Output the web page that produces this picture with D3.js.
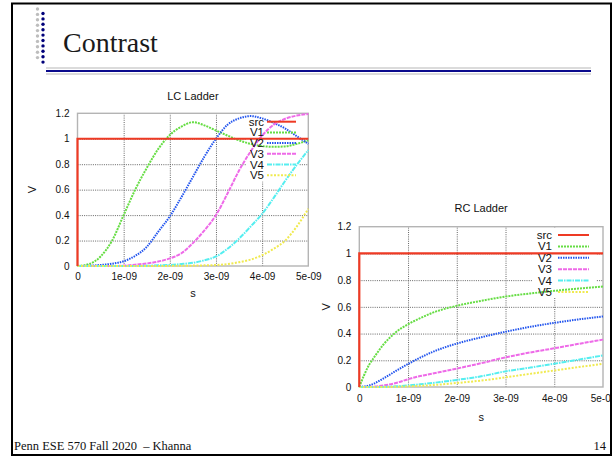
<!DOCTYPE html>
<html>
<head>
<meta charset="utf-8">
<script src="https://cdn.jsdelivr.net/npm/d3@7"></script>
<style>
body { margin: 0; background: #fff; }
svg { display: block; }
</style>
</head>
<body>
<div class="canvas"></div>
<script>
// series names + styles (gnuplot look)
const names  = ["src", "V1", "V2", "V3", "V4", "V5"];
const colors = ["#ee3a24", "#66dd44", "#2456ee", "#ee6ae8", "#55eef0", "#f0ea50"];
const dashes = [null, "2,1", "1.5,1", "4,1", "5,1,1.5,1", "2,1.5"];

const xTickValues = [0, 1, 2, 3, 4, 5];            // ns
const xTickLabels = ["0", "1e-09", "2e-09", "3e-09", "4e-09", "5e-09"];
const yTickValues = [0, 0.2, 0.4, 0.6, 0.8, 1, 1.2];
const yTickLabels = ["0", "0.2", "0.4", "0.6", "0.8", "1", "1.2"];

// source step
const srcT = [0, 0, 5];
const srcV = [0, 1, 1];

// LC ladder (time in ns)
const lcT  = [0, 0.25, 0.5, 0.75, 1, 1.25, 1.5, 1.75, 2, 2.25, 2.5, 2.75, 3, 3.25, 3.5, 3.75, 4, 4.25, 4.5, 4.75, 5];
const lcV1 = [0, 0.015, 0.075, 0.2, 0.4, 0.6, 0.77, 0.92, 1.03, 1.095, 1.13, 1.105, 1.065, 1.025, 0.987, 0.96, 0.942, 0.937, 0.94, 0.96, 0.987];
const lcV2 = [0, 0.002, 0.008, 0.018, 0.037, 0.08, 0.15, 0.27, 0.39, 0.54, 0.70, 0.86, 1.0, 1.11, 1.16, 1.178, 1.16, 1.125, 1.08, 1.02, 0.96];
const lcV3 = [0, 0, 0, 0, 0.003, 0.01, 0.02, 0.035, 0.06, 0.1, 0.18, 0.28, 0.40, 0.57, 0.75, 0.9, 1.025, 1.11, 1.157, 1.182, 1.195];
const lcV4 = [0, 0, 0, 0, 0, 0, 0.002, 0.005, 0.008, 0.015, 0.025, 0.045, 0.075, 0.135, 0.215, 0.31, 0.41, 0.535, 0.67, 0.795, 0.91];
const lcV5 = [0, 0, 0, 0, 0, 0, 0, 0, 0.001, 0.002, 0.003, 0.005, 0.008, 0.015, 0.03, 0.05, 0.085, 0.135, 0.2, 0.31, 0.45];

// RC ladder (time in ns)
const rcT  = [0, 0.1, 0.2, 0.3, 0.5, 0.75, 1, 1.25, 1.5, 2, 2.5, 3, 3.5, 4, 4.5, 5];
const rcV1 = [0, 0.09, 0.165, 0.22, 0.32, 0.41, 0.47, 0.515, 0.555, 0.608, 0.645, 0.677, 0.70, 0.72, 0.737, 0.752];
const rcV2 = [0, 0.004, 0.012, 0.025, 0.065, 0.12, 0.172, 0.22, 0.262, 0.325, 0.372, 0.414, 0.45, 0.48, 0.506, 0.528];
const rcV3 = [0, 0, 0.001, 0.003, 0.012, 0.03, 0.058, 0.082, 0.1, 0.138, 0.178, 0.222, 0.258, 0.29, 0.323, 0.355];
const rcV4 = [0, 0, 0, 0, 0.001, 0.005, 0.012, 0.02, 0.03, 0.053, 0.08, 0.117, 0.145, 0.174, 0.205, 0.236];
const rcV5 = [0, 0, 0, 0, 0, 0.002, 0.005, 0.009, 0.014, 0.03, 0.048, 0.072, 0.098, 0.124, 0.149, 0.174];

const svg = d3.select(".canvas").append("svg").attr("width", 616).attr("height", 459);
svg.append("rect").attr("width", 616).attr("height", 459).attr("fill", "#fff");

svg.append("clipPath").attr("id", "slide")
    .append("rect").attr("x", 12).attr("y", 3).attr("width", 599).attr("height", 452);

const slide = svg.append("g").attr("clip-path", "url(#slide)");

// decorative dots at the top left
slide.selectAll(".gdot").data(d3.range(9, 63, 5.4)).join("circle")
    .attr("cx", 37.5).attr("cy", d => d).attr("r", 1.7).attr("fill", "#bdbdbd");
slide.selectAll(".bdot").data(d3.range(13.5, 67, 5.4)).join("circle")
    .attr("cx", 43).attr("cy", d => d).attr("r", 1.7).attr("fill", "#00007a");

slide.append("text")
    .attr("x", 63).attr("y", 52)
    .attr("font-family", "Liberation Serif, Times New Roman, serif")
    .attr("font-size", "28px").attr("fill", "#1a1a1a")
    .text("Contrast");

// double rule under the title
[[68, "#cfcfcf", 1.6], [71, "#0a0a8c", 2], [74, "#cfcfcf", 1.6]].forEach(r => {
    slide.append("line").attr("x1", 46).attr("x2", 591).attr("y1", r[0]).attr("y2", r[0])
        .attr("stroke", r[1]).attr("stroke-width", r[2]);
});

function drawChart(cfg) {
    const g = slide.append("g");
    const x = d3.scaleLinear().domain([0, 5]).range(cfg.xr);
    const y = d3.scaleLinear().domain([0, 1.2]).range(cfg.yr);
    const w = cfg.xr[1] - cfg.xr[0], h = cfg.yr[0] - cfg.yr[1];

    // grid
    const gx = g.append("g").attr("transform", `translate(0,${cfg.yr[0]})`)
        .call(d3.axisBottom(x).tickValues(xTickValues.slice(1, -1)).tickSize(-h).tickFormat(""));
    const gy = g.append("g").attr("transform", `translate(${cfg.xr[0]},0)`)
        .call(d3.axisLeft(y).tickValues(yTickValues.slice(1, -1)).tickSize(-w).tickFormat(""));
    [gx, gy].forEach(a => {
        a.select(".domain").remove();
        a.selectAll("line").attr("stroke", "#555").attr("stroke-dasharray", "1,1.2").attr("stroke-width", 0.9);
    });

    // legend background hides the grid
    g.append("rect").attr("x", cfg.key.box[0]).attr("y", cfg.key.box[1])
        .attr("width", cfg.key.box[2]).attr("height", cfg.key.box[3]).attr("fill", "#fff");

    // border
    g.append("rect").attr("x", cfg.xr[0]).attr("y", cfg.yr[1]).attr("width", w).attr("height", h)
        .attr("fill", "none").attr("stroke", "#b4b4b4").attr("stroke-width", 1.4);

    // tick labels
    const ax = g.append("g").attr("transform", `translate(0,${cfg.yr[0]})`)
        .call(d3.axisBottom(x).tickValues(xTickValues).tickSize(0).tickPadding(cfg.xpad)
            .tickFormat((d, i) => xTickLabels[i]));
    const ay = g.append("g").attr("transform", `translate(${cfg.xr[0]},0)`)
        .call(d3.axisLeft(y).tickValues(yTickValues).tickSize(0).tickPadding(cfg.ypad)
            .tickFormat((d, i) => yTickLabels[i]));
    [ax, ay].forEach(a => {
        a.select(".domain").remove();
        a.selectAll("text").attr("font-family", "Liberation Sans, Arial, sans-serif")
            .attr("font-size", "10px").attr("fill", "#111");
    });

    // curves
    const line = d3.line().x(d => x(d[0])).y(d => y(d[1])).curve(d3.curveMonotoneX);
    const srcLine = d3.line().x(d => x(d[0])).y(d => y(d[1]));
    cfg.series.forEach((s, i) => {
        if (i === 0) return;
        const pts = s.t.map((t, k) => [t, s.v[k]]);
        g.append("path").datum(pts)
            .attr("d", line)
            .attr("fill", "none").attr("stroke", colors[i])
            .attr("stroke-width", 2)
            .attr("stroke-dasharray", dashes[i]);
    });
    // source step drawn on top
    const s0 = cfg.series[0];
    g.append("path").datum(s0.t.map((t, k) => [t, s0.v[k]])).attr("d", srcLine)
        .attr("fill", "none").attr("stroke", colors[0]).attr("stroke-width", 2.2);

    // legend
    names.forEach((n, i) => {
        const ly = cfg.key.y0 + i * cfg.key.dy;
        g.append("text").attr("x", cfg.key.tx).attr("y", ly).attr("dy", "0.35em")
            .attr("text-anchor", "end")
            .attr("font-family", "Liberation Sans, Arial, sans-serif")
            .attr("font-size", "11.5px").attr("fill", "#111").text(n);
        g.append("line").attr("x1", cfg.key.l1).attr("x2", cfg.key.l2).attr("y1", ly).attr("y2", ly)
            .attr("stroke", colors[i]).attr("stroke-width", 2).attr("stroke-dasharray", dashes[i]);
    });

    // titles
    const font = "Liberation Sans, Arial, sans-serif";
    g.append("text").attr("x", (cfg.xr[0] + cfg.xr[1]) / 2).attr("y", cfg.titleY)
        .attr("text-anchor", "middle").attr("font-family", font).attr("font-size", "11px")
        .attr("fill", "#111").text(cfg.title);
    g.append("text").attr("x", (cfg.xr[0] + cfg.xr[1]) / 2).attr("y", cfg.sY)
        .attr("text-anchor", "middle").attr("font-family", font).attr("font-size", "11px")
        .attr("fill", "#111").text("s");
    g.append("text").attr("transform", `translate(${cfg.vX},${(cfg.yr[0] + cfg.yr[1]) / 2}) rotate(-90)`)
        .attr("text-anchor", "middle").attr("dy", "0.35em").attr("font-family", font).attr("font-size", "11px")
        .attr("fill", "#111").text("V");
}

drawChart({
    xr: [77.5, 308.3], yr: [266, 113.3],
    xpad: 7, ypad: 8,
    title: "LC Ladder", titleY: 100, sY: 297, vX: 32,
    key: { tx: 264, l1: 267, l2: 296, y0: 121.7, dy: 10.7, box: [246, 114.5, 53, 67] },
    series: [
        { t: srcT, v: srcV }, { t: lcT, v: lcV1 }, { t: lcT, v: lcV2 },
        { t: lcT, v: lcV3 }, { t: lcT, v: lcV4 }, { t: lcT, v: lcV5 }
    ]
});

drawChart({
    xr: [359.3, 603], yr: [387, 226.7],
    xpad: 8, ypad: 8,
    title: "RC Ladder", titleY: 212, sY: 421, vX: 326,
    key: { tx: 552, l1: 558, l2: 589, y0: 235, dy: 11.4, box: [533, 228, 63, 70] },
    series: [
        { t: srcT, v: srcV }, { t: rcT, v: rcV1 }, { t: rcT, v: rcV2 },
        { t: rcT, v: rcV3 }, { t: rcT, v: rcV4 }, { t: rcT, v: rcV5 }
    ]
});

// footer
slide.append("text").attr("x", 14).attr("y", 450)
    .attr("font-family", "Liberation Serif, Times New Roman, serif").attr("font-size", "12.5px")
    .attr("fill", "#111").text("Penn ESE 570 Fall 2020 \u00a0\u2013 Khanna");
slide.append("text").attr("x", 606).attr("y", 450).attr("text-anchor", "end")
    .attr("font-family", "Liberation Serif, Times New Roman, serif").attr("font-size", "12.5px")
    .attr("fill", "#111").text("14");

// slide frame
svg.append("rect").attr("x", 12).attr("y", 3.5).attr("width", 599).attr("height", 451.5)
    .attr("fill", "none").attr("stroke", "#000").attr("stroke-width", 2);
</script>
</body>
</html>
